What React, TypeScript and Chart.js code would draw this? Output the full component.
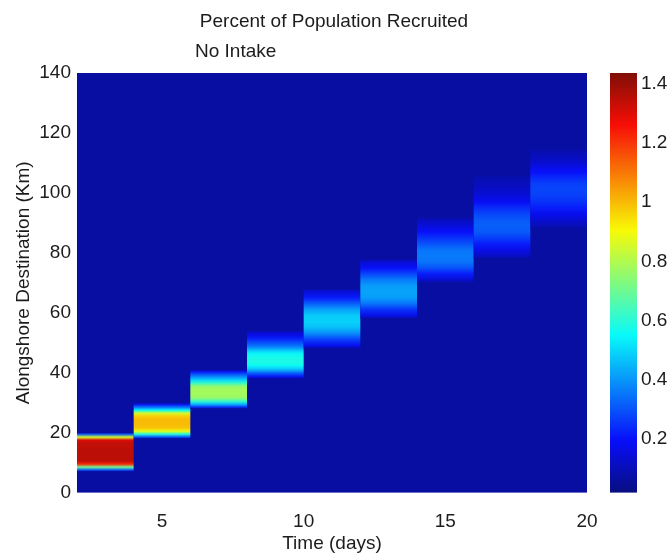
import React, { useEffect, useRef } from "react";
import { Chart, registerables } from "chart.js";

Chart.register(...registerables);

// ---------- data ----------
const titleText = "Percent of Population Recruited";
const subtitleText = "No Intake";
const xAxisLabel = "Time (days)";
const yAxisLabel = "Alongshore Destination (Km)";

const xTickValues = [5, 10, 15, 20];
const yTickValues = [0, 20, 40, 60, 80, 100, 120, 140];
const colorTickValues = [0.2, 0.4, 0.6, 0.8, 1, 1.2, 1.4];

const xMin = 2;
const xMax = 20;
const yMin = 0;
const yMax = 140;
const colorMin = 0.02;
const colorMax = 1.436;
const backgroundValue = 0.07;

const dayStart = [2, 4, 6, 8, 10, 12, 14, 16, 18];
const dayEnd = [4, 6, 8, 10, 12, 14, 16, 18, 20];

// rows: [km from, km to, percent]
const rowsDay2 = [
  [7, 8, 0.3], [8, 9, 0.7], [9, 10, 1.22], [10, 11, 1.34], [11, 12, 1.35],
  [12, 13, 1.35], [13, 14, 1.35], [14, 15, 1.35], [15, 16, 1.34], [16, 17, 1.34],
  [17, 18, 1.3], [18, 19, 0.85], [19, 20, 0.3],
];
const rowsDay4 = [
  [18, 19, 0.3], [19, 20, 0.6], [20, 21, 0.88], [21, 22, 0.98], [22, 23, 1.0],
  [23, 24, 1.0], [24, 25, 1.0], [25, 26, 0.97], [26, 27, 0.85], [27, 28, 0.55],
  [28, 29, 0.35], [29, 30, 0.18],
];
const rowsDay6 = [
  [28, 29, 0.25], [29, 30, 0.45], [30, 31, 0.62], [31, 32, 0.75], [32, 33, 0.78],
  [33, 34, 0.78], [34, 35, 0.78], [35, 36, 0.75], [36, 37, 0.62], [37, 38, 0.5],
  [38, 39, 0.4], [39, 40, 0.3], [40, 41, 0.18],
];
const rowsDay8 = [
  [38, 39, 0.18], [39, 40, 0.28], [40, 41, 0.4], [41, 42, 0.5], [42, 43, 0.56],
  [43, 44, 0.58], [44, 45, 0.58], [45, 46, 0.57], [46, 47, 0.54], [47, 48, 0.47],
  [48, 49, 0.38], [49, 50, 0.32], [50, 51, 0.27], [51, 52, 0.22], [52, 53, 0.17],
  [53, 54, 0.13],
];
const rowsDay10 = [
  [48, 50, 0.18], [50, 52, 0.27], [52, 54, 0.38], [54, 56, 0.46], [56, 58, 0.49],
  [58, 60, 0.48], [60, 62, 0.42], [62, 64, 0.32], [64, 66, 0.22], [66, 68, 0.15],
];
const rowsDay12 = [
  [58, 60, 0.17], [60, 62, 0.25], [62, 64, 0.35], [64, 66, 0.41], [66, 68, 0.42],
  [68, 70, 0.41], [70, 72, 0.36], [72, 74, 0.28], [74, 76, 0.2], [76, 78, 0.14],
];
const rowsDay14 = [
  [70, 72, 0.14], [72, 74, 0.22], [74, 76, 0.3], [76, 78, 0.35], [78, 80, 0.36],
  [80, 82, 0.35], [82, 84, 0.3], [84, 86, 0.25], [86, 88, 0.2], [88, 90, 0.15],
  [90, 92, 0.11],
];
const rowsDay16 = [
  [78, 80, 0.12], [80, 82, 0.17], [82, 84, 0.22], [84, 86, 0.27], [86, 88, 0.31],
  [88, 90, 0.32], [90, 92, 0.31], [92, 94, 0.28], [94, 96, 0.24], [96, 98, 0.19],
  [98, 100, 0.15], [100, 103, 0.12], [103, 106, 0.095],
];
const rowsDay18 = [
  [88, 90, 0.1], [90, 92, 0.14], [92, 94, 0.18], [94, 96, 0.22], [96, 98, 0.25],
  [98, 100, 0.27], [100, 102, 0.28], [102, 104, 0.27], [104, 106, 0.24], [106, 108, 0.2],
  [108, 110, 0.16], [110, 112, 0.12], [112, 115, 0.095],
];

const blockRows = [
  rowsDay2, rowsDay4, rowsDay6, rowsDay8, rowsDay10,
  rowsDay12, rowsDay14, rowsDay16, rowsDay18,
];

// ---------- styling helpers ----------
const FONT_FAMILY = '"Liberation Sans", Arial, Helvetica, sans-serif';
const TEXT_COLOR = "#1c1c1c";
const FONT_SIZE = 19;

function clamp01(v: number) {
  return Math.max(0, Math.min(1, v));
}

function jet(value: number) {
  const t = clamp01((value - colorMin) / (colorMax - colorMin));
  const r = clamp01(1.5 - Math.abs(4 * t - 3));
  const g = clamp01(1.5 - Math.abs(4 * t - 2));
  const b = clamp01(1.5 - Math.abs(4 * t - 1));
  // slight lift to mimic the photographed print
  const R = Math.round(8 + r * 240);
  const G = Math.round(14 + g * 236);
  const B = Math.round(6 + b * 244);
  return `rgb(${R},${G},${B})`;
}

const heatmapPlugin = {
  id: "heatmap",
  beforeDatasetsDraw(chart: any) {
    const { ctx, chartArea, scales } = chart;
    const xs = scales.x;
    const ys = scales.y;
    const bg = jet(backgroundValue);
    ctx.save();
    ctx.fillStyle = bg;
    ctx.fillRect(chartArea.left, chartArea.top, chartArea.width, chartArea.height);
    blockRows.forEach((rows: number[][], i: number) => {
      const x0 = xs.getPixelForValue(dayStart[i]);
      const x1 = xs.getPixelForValue(dayEnd[i]);
      const yBottom = ys.getPixelForValue(rows[0][0]);
      const yTop = ys.getPixelForValue(rows[rows.length - 1][1]);
      const grad = ctx.createLinearGradient(0, yBottom, 0, yTop);
      grad.addColorStop(0, bg);
      rows.forEach(([a, b, v]) => {
        const yc = ys.getPixelForValue((a + b) / 2);
        const off = (yc - yBottom) / (yTop - yBottom);
        grad.addColorStop(clamp01(off), jet(v));
      });
      grad.addColorStop(1, bg);
      ctx.fillStyle = grad;
      ctx.fillRect(x0, yTop, x1 - x0, yBottom - yTop);
    });
    ctx.restore();
  },
  afterDraw(chart: any) {
    const { ctx, chartArea, scales } = chart;
    const cb = scales.cb;
    ctx.save();
    // colour bar
    const cbLeft = 610;
    const cbRight = 637;
    const top = cb.getPixelForValue(colorMax);
    const bottom = cb.getPixelForValue(colorMin);
    const grad = ctx.createLinearGradient(0, bottom, 0, top);
    const n = 64;
    for (let k = 0; k <= n; k++) {
      const v = colorMin + ((colorMax - colorMin) * k) / n;
      grad.addColorStop(k / n, jet(v));
    }
    ctx.fillStyle = grad;
    ctx.fillRect(cbLeft, top, cbRight - cbLeft, bottom - top);

    // titles
    ctx.fillStyle = TEXT_COLOR;
    ctx.font = `${FONT_SIZE}px ${FONT_FAMILY}`;
    ctx.textBaseline = "alphabetic";
    ctx.textAlign = "center";
    ctx.fillText(titleText, 334, 27);
    ctx.textAlign = "left";
    ctx.fillText(subtitleText, 195, 57);

    // axis titles
    ctx.textAlign = "center";
    ctx.textBaseline = "middle";
    ctx.fillText(xAxisLabel, (chartArea.left + chartArea.right) / 2, 544);
    ctx.translate(24, (chartArea.top + chartArea.bottom) / 2);
    ctx.rotate(-Math.PI / 2);
    ctx.fillText(yAxisLabel, 0, 0);
    ctx.restore();
  },
};

function formatNum(v: number) {
  return String(Math.round(v * 10) / 10);
}

export default function App() {
  const canvasRef = useRef<HTMLCanvasElement | null>(null);

  useEffect(() => {
    const canvas = canvasRef.current;
    if (!canvas) return;
    const tickFont = { family: FONT_FAMILY, size: FONT_SIZE };
    const chart = new Chart(canvas, {
      type: "scatter",
      data: { datasets: [{ data: [], showLine: false }] },
      options: {
        animation: false,
        responsive: false,
        devicePixelRatio: 1,
        layout: { padding: { top: 73, left: 0, right: 0, bottom: 0 } },
        plugins: {
          legend: { display: false },
          tooltip: { enabled: false },
          title: { display: false },
        },
        scales: {
          x: {
            type: "linear",
            position: "bottom",
            min: xMin,
            max: xMax,
            grid: { display: false, drawTicks: false },
            border: { display: false },
            afterBuildTicks: (s: any) => {
              s.ticks = xTickValues.map((v) => ({ value: v }));
            },
            afterFit: (s: any) => {
              s.height = 53;
            },
            ticks: {
              font: tickFont,
              color: TEXT_COLOR,
              padding: 18,
              maxRotation: 0,
              autoSkip: false,
              callback: (v: any) => formatNum(Number(v)),
            },
          },
          y: {
            type: "linear",
            position: "left",
            min: yMin,
            max: yMax,
            grid: { display: false, drawTicks: false },
            border: { display: false },
            afterBuildTicks: (s: any) => {
              s.ticks = yTickValues.map((v) => ({ value: v }));
            },
            afterFit: (s: any) => {
              s.width = 77;
            },
            ticks: {
              font: tickFont,
              color: TEXT_COLOR,
              padding: 6,
              autoSkip: false,
              callback: (v: any) => formatNum(Number(v)),
            },
          },
          cb: {
            type: "linear",
            position: "right",
            min: colorMin,
            max: colorMax,
            grid: { display: false, drawTicks: false },
            border: { display: false },
            afterBuildTicks: (s: any) => {
              s.ticks = colorTickValues.map((v) => ({ value: v }));
            },
            afterFit: (s: any) => {
              s.width = 82;
            },
            ticks: {
              font: tickFont,
              color: TEXT_COLOR,
              padding: 54,
              autoSkip: false,
              callback: (v: any) => formatNum(Number(v)),
            },
          },
        },
      },
      plugins: [heatmapPlugin],
    } as any);
    return () => chart.destroy();
  }, []);

  return (
    <div style={{ position: "absolute", left: 0, top: 0, width: 669, height: 558, background: "#ffffff" }}>
      <canvas ref={canvasRef} width={669} height={558} style={{ display: "block" }} />
    </div>
  );
}
